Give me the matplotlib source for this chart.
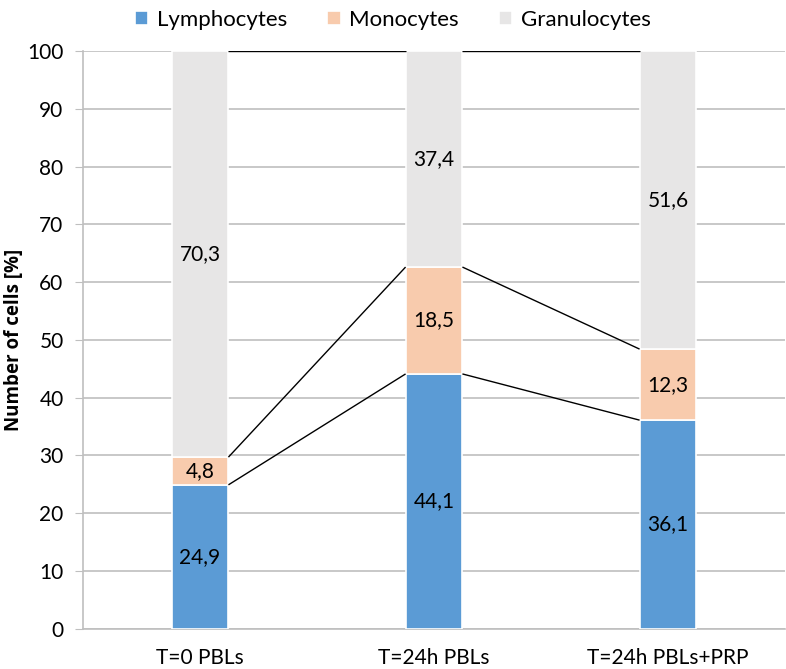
import matplotlib.pyplot as plt
import numpy as np

plt.rcParams['font.family'] = ['Lato', 'DejaVu Sans']

categories = ['T=0 PBLs', 'T=24h PBLs', 'T=24h PBLs+PRP']
series_names = ['Lymphocytes', 'Monocytes', 'Granulocytes']
lymphocytes = [24.9, 44.1, 36.1]
monocytes = [4.8, 18.5, 12.3]
granulocytes = [70.3, 37.4, 51.6]
colors = ['#5B9BD5', '#F8CBAD', '#E7E6E6']

fig = plt.figure(figsize=(7.86, 6.69), dpi=100)
ax = fig.add_axes([83 / 786, 1 - 628.7 / 669, 702 / 786, (628.7 - 51) / 669])

x = np.arange(len(categories))
width = 0.243
bottom = np.zeros(len(categories))
tops = []
for name, vals, c in zip(series_names, [lymphocytes, monocytes, granulocytes], colors):
    vals = np.array(vals)
    ax.bar(x, vals, width, bottom=bottom, color=c, label=name,
           edgecolor='white', linewidth=1.2, zorder=3)
    for xi, b, v in zip(x, bottom, vals):
        ax.text(xi, b + v / 2, f'{v:.1f}'.replace('.', ','), ha='center', va='center',
                fontsize=15, color='black', zorder=5)
    bottom = bottom + vals
    tops.append(bottom.copy())

# series lines between bars
for t in tops:
    for i in range(len(categories) - 1):
        ax.plot([x[i] + width / 2, x[i + 1] - width / 2], [t[i], t[i + 1]],
                color='black', linewidth=1.0, zorder=4, solid_capstyle='butt')

ax.set_xlim(-0.5, 2.5)
ax.set_ylim(0, 100)
ax.set_yticks(range(0, 101, 10))
ax.yaxis.grid(True, color='#BFBFBF', linewidth=1.2, zorder=0)
ax.set_axisbelow(True)
for s in ['top', 'right']:
    ax.spines[s].set_visible(False)
for s in ['left', 'bottom']:
    ax.spines[s].set_color('#BFBFBF')
    ax.spines[s].set_linewidth(1.2)
ax.tick_params(axis='y', length=6, color='#BFBFBF', labelsize=15, pad=8)
ax.tick_params(axis='x', length=0, labelsize=15, pad=14)
ax.set_xticks(x)
ax.set_xticklabels(categories)
ax.set_ylabel('Number of cells [%]', fontsize=13.5, fontweight='bold',
              family=['Open Sans', 'DejaVu Sans'], va='center')
ax.yaxis.set_label_coords(-0.098, 0.5)

fig.legend(loc='upper center', bbox_to_anchor=(0.5, 1.015), ncol=3, frameon=False,
           fontsize=16, handlelength=0.6, handleheight=0.6, handletextpad=0.4,
           columnspacing=1.8)

fig.savefig('out.png', dpi=100)
